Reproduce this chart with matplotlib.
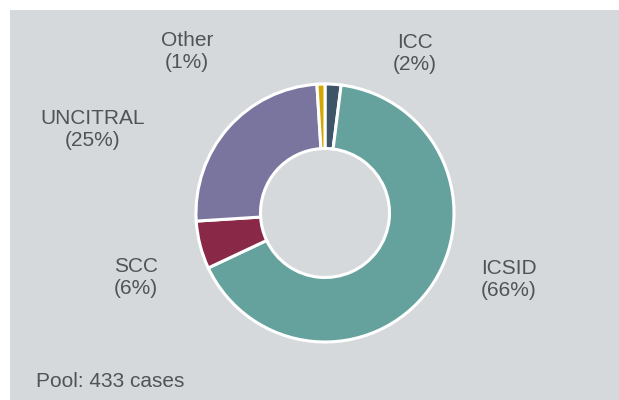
import matplotlib
matplotlib.use("Agg")
import matplotlib.pyplot as plt
from matplotlib.patches import Rectangle

categories = ["ICC", "ICSID", "SCC", "UNCITRAL", "Other"]
shares = [2, 66, 6, 25, 1]
colors = ["#3D5566", "#65A29D", "#8A2947", "#79759F", "#D4A600"]
pool_note = "Pool: 433 cases"

W, H = 619, 400
fig = plt.figure(figsize=(W / 100, H / 100), dpi=100, facecolor="white")

# background panel
bg = fig.add_axes([0, 0, 1, 1], zorder=-5)
bg.set_xlim(0, W)
bg.set_ylim(H, 0)
bg.add_patch(Rectangle((10, 10), W - 10, H - 10, facecolor="#D5D9DC",
                       edgecolor="none"))
bg.axis("off")

cx, cy, r = 325, 213, 129
ax = fig.add_axes([(cx - r) / W, (H - cy - r) / H, 2 * r / W, 2 * r / H], zorder=1)
ax.set_facecolor("none")
ax.pie(shares, colors=colors, startangle=90, counterclock=False, radius=1,
       wedgeprops=dict(width=0.5, edgecolor="white", linewidth=2.2))
ax.set_xlim(-1, 1)
ax.set_ylim(-1, 1)
ax.set_aspect("equal")
ax.axis("off")

text_color = "#4F5458"
font = dict(family=["Liberation Sans", "DejaVu Sans"], size=15, color=text_color)

label_pos = {
    "ICC": (415, 53),
    "ICSID": (509, 280),
    "SCC": (136, 278),
    "UNCITRAL": (93, 129),
    "Other": (187, 51),
}
for cat, val in zip(categories, shares):
    x, y = label_pos[cat]
    fig.text(x / W, 1 - y / H, f"{cat}\n({val}%)", ha="center", va="center",
             linespacing=1.2, **font)

fig.text(36 / W, 1 - 387 / H, pool_note, ha="left", va="baseline", **font)

fig.savefig("out.png", dpi=100, facecolor="white")
